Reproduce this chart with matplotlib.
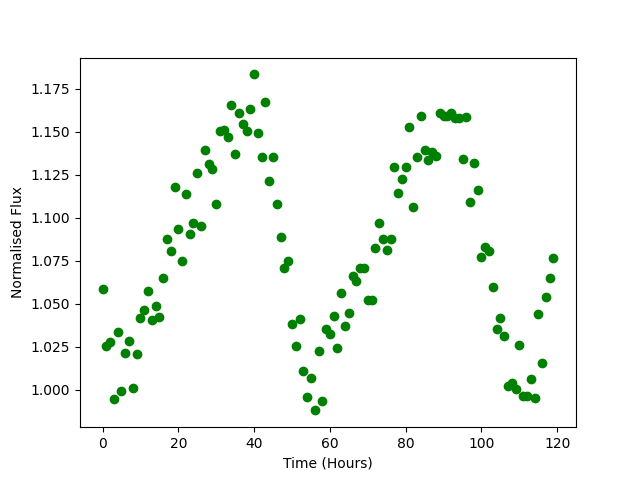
import numpy as np
import matplotlib
matplotlib.use("Agg")
import matplotlib.pyplot as plt

# hourly samples, 0..119
time_hours = np.arange(120)

norm_flux = [
    1.0587, 1.0252, 1.0277, 0.9948, 1.0337, 0.9994, 1.0215, 1.0285, 1.0012, 1.0205,
    1.0419, 1.0465, 1.0572, 1.0403, 1.0488, 1.0420, 1.0651, 1.0878, 1.0808, 1.1176,
    1.0936, 1.0746, 1.1140, 1.0907, 1.0971, 1.1262, 1.0949, 1.1391, 1.1310, 1.1285,
    1.1081, 1.1502, 1.1508, 1.1471, 1.1653, 1.1372, 1.1606, 1.1544, 1.1502, 1.1634,
    1.1833, 1.1490, 1.1355, 1.1670, 1.1211, 1.1351, 1.1081, 1.0890, 1.0709, 1.0746,
    1.0385, 1.0252, 1.0409, 1.0110, 0.9955, 1.0066, 0.9880, 1.0223, 0.9932, 1.0355,
    1.0326, 1.0430, 1.0240, 1.0560, 1.0368, 1.0449, 1.0659, 1.0630, 1.0709, 1.0709,
    1.0519, 1.0519, 1.0826, 1.0967, 1.0874, 1.0810, 1.0874, 1.1297, 1.1145, 1.1223,
    1.1297, 1.1525, 1.1060, 1.1351, 1.1593, 1.1391, 1.1337, 1.1381, 1.1356, 1.1610,
    1.1589, 1.1589, 1.1610, 1.1581, 1.1581, 1.1339, 1.1583, 1.1089, 1.1320, 1.1159,
    1.0769, 1.0827, 1.0804, 1.0595, 1.0356, 1.0415, 1.0314, 1.0023, 1.0042, 1.0006,
    1.0263, 0.9965, 0.9965, 1.0060, 0.9953, 1.0442, 1.0153, 1.0537, 1.0651, 1.0767,
]

fig = plt.figure(figsize=(6.4, 4.8), dpi=100)
plt.plot(time_hours, norm_flux, 'o', color='green')
plt.xlabel('Time (Hours)')
plt.ylabel('Normalised Flux')
plt.savefig('out.png')
